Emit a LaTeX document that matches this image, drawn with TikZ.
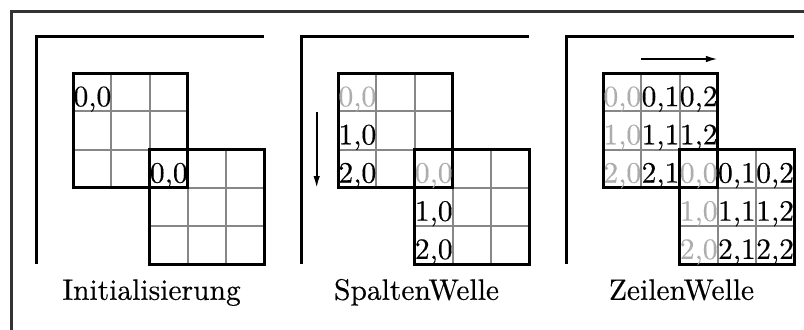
\documentclass[tikz,border=0pt]{standalone}
\usepackage{fontspec}
\setmainfont{lmroman10-regular.otf}[FakeBold=0.35]
\usetikzlibrary{arrows.meta}
\tikzset{
  every node/.style = {outer sep=0, inner sep=0, font=\fontsize{22}{26}\selectfont},
  rahmen/.style = {line width=2.2pt, draw=black!80},
  achse/.style = {line width=2.2pt},
  gitter/.style = {line width=1.5pt, draw=black!47},
  block/.style = {line width=2.2pt},
  cell/.style = {anchor=base},
  alt/.style = {text=black!32},
  arrow/.style = {-{Latex[length=0.32cm, width=0.17cm]}, line width=1.5pt}
}

\begin{document}
\begin{tikzpicture}
  \useasboundingbox (0,0) rectangle (21.05,-8.64);
  % outer frame, open to the right and at the bottom
  \draw[rahmen] (0.31,-8.64) -- (0.31,-0.31) -- (21.05,-0.31);

  % the three stages: axes, both 3x3 blocks and the caption
  \foreach \p/\name in {1/Initialisierung,2/SpaltenWelle,3/ZeilenWelle} {
    \begin{scope}[shift={({1.919+6.937*(\p-1)},-1.919)}]
      \draw[achse] (5,0.96) -- (-0.96,0.96) -- (-0.96,-5);
      \foreach \g in {0,2} \draw[gitter] (\g,-\g-3) grid (\g+3,-\g);
      \foreach \g in {0,2} \draw[block] (\g,-\g) rectangle (\g+3,-\g-3);
      \node[anchor=base] (cap\p) at (2.05,-5.93) {\name};
    \end{scope}
  }

  % Initialisierung
  \begin{scope}[shift={(1.919,-1.919)}]
    \node[cell] (ia00) at (0.5,-0.86) {0,0};
    \node[cell] (ib00) at (2.5,-2.86) {0,0};
  \end{scope}

  % SpaltenWelle
  \begin{scope}[shift={(8.856,-1.919)}]
    \foreach \g/\t in {0/a,2/b} {
      \node[cell,alt] (s\t00) at (\g+0.5,-\g-0.86) {0,0};
      \foreach \r in {1,2}
        \node[cell] (s\t\r0) at (\g+0.5,-\g-\r-0.86) {\r,0};
    }
    \coordinate (s-von) at (-0.565,-1.005);
    \coordinate (s-nach) at (-0.565,-3.01);
    \draw[arrow] (s-von) -- (s-nach);
  \end{scope}

  % ZeilenWelle
  \begin{scope}[shift={(15.793,-1.919)}]
    \foreach \g/\t in {0/a,2/b}
      \foreach \r in {0,1,2}
        \node[cell,alt] (z\t\r0) at (\g+0.5,-\g-\r-0.86) {\r,0};
    \foreach \r/\c in {0/1,0/2,1/1,1/2,2/1}
      \node[cell] (za\r\c) at (\c+0.5,-\r-0.86) {\r,\c};
    \foreach \r in {0,1,2}
      \foreach \c in {1,2}
        \node[cell] (zb\r\c) at (\c+2.5,-\r-2.86) {\r,\c};
    \coordinate (z-von) at (0.979,0.374);
    \coordinate (z-nach) at (3.01,0.374);
    \draw[arrow] (z-von) -- (z-nach);
  \end{scope}
\end{tikzpicture}
\end{document}
